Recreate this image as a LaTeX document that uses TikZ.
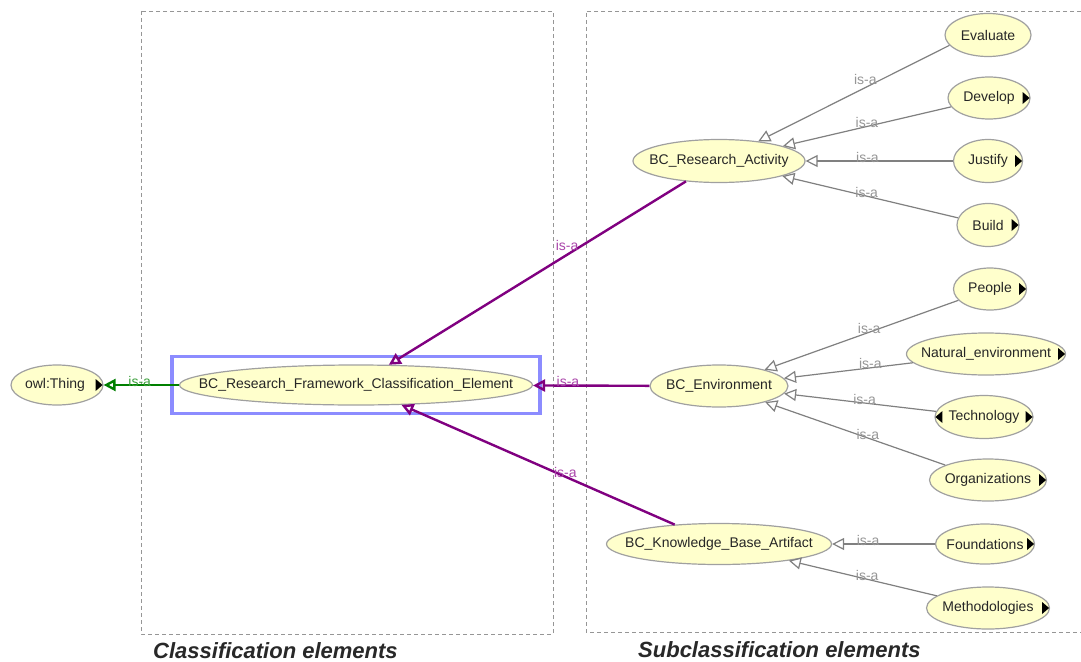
\documentclass[tikz,border=0pt]{standalone}
\usepackage{fontspec}
\setmainfont{Liberation Sans}
\usetikzlibrary{arrows.meta,calc,shapes.geometric,fit}
\definecolor{nodefill}{RGB}{255,255,204}
\definecolor{nodeborder}{RGB}{160,160,160}
\definecolor{edgegray}{RGB}{128,128,128}
\definecolor{labgray}{RGB}{150,150,150}
\definecolor{purp}{RGB}{128,0,128}
\definecolor{purplab}{RGB}{170,70,170}
\definecolor{grn}{RGB}{0,128,0}
\definecolor{grnlab}{RGB}{60,160,60}
\definecolor{selblue}{RGB}{140,140,255}
\definecolor{boxgray}{RGB}{150,150,150}
\definecolor{captxt}{RGB}{40,40,40}
\begin{document}
\begin{tikzpicture}[x=1pt,y=-1pt,
  cls/.style={ellipse, draw=nodeborder, line width=1.2pt, fill=nodefill, inner sep=0pt,
    font=\fontsize{14}{16}\selectfont, text=black!85},
  isa/.style={draw=edgegray, line width=1.2pt, -{Triangle[open,length=12pt,width=12pt]}},
  isap/.style={draw=purp, line width=2.4pt, -{Triangle[open,length=12pt,width=12pt]}},
  isag/.style={draw=grn, line width=2.4pt, -{Triangle[open,length=12pt,width=12pt]}},
  lab/.style={font=\fontsize{14}{16}\selectfont, text=labgray, inner sep=0pt, yshift=4pt},
  labp/.style={lab, text=purplab},
  labg/.style={lab, text=grnlab},
  dbox/.style={draw=boxgray, line width=0.8pt, dash pattern=on 4pt off 3pt},
  selbox/.style={draw=selblue, line width=3.5pt, inner xsep=7pt, inner ysep=8pt},
  mk/.style={fill=black},
  caption/.style={font=\fontsize{22}{26}\selectfont\bfseries\itshape, text=captxt, inner sep=0pt, anchor=base west}
]
\useasboundingbox (0,0) rectangle (1081,661);
\fill[white] (0,0) rectangle (1081,661);

% dashed frames
\draw[dbox] (141,11) rectangle (553,634);
\draw[dbox] (1081,11) -- (586,11) -- (586,632) -- (1081,632);

% nodes
\node[cls, minimum width=92, minimum height=40] (thing) at (57,385) {\makebox[0pt]{owl:Thing\hspace{4pt}}};
\node[cls, minimum width=353, minimum height=40] (central) at (356,385) {\makebox[0pt]{BC\_Research\_Framework\_Classification\_Element}};
\node[cls, minimum width=172, minimum height=43] (ra) at (719,161) {\makebox[0pt]{BC\_Research\_Activity}};
\node[cls, minimum width=138, minimum height=42] (env) at (719,386) {\makebox[0pt]{BC\_Environment}};
\node[cls, minimum width=225, minimum height=41] (kba) at (719,544) {\makebox[0pt]{BC\_Knowledge\_Base\_Artifact}};

\node[cls, minimum width=86, minimum height=43] (eval) at (988,35) {\makebox[0pt]{Evaluate}};
\node[cls, minimum width=82, minimum height=42] (dev) at (989,98) {\makebox[0pt]{Develop}};
\node[cls, minimum width=69, minimum height=43] (just) at (988,161) {\makebox[0pt]{Justify}};
\node[cls, minimum width=62, minimum height=43] (build) at (988,225) {\makebox[0pt]{Build}};

\node[cls, minimum width=73, minimum height=42] (people) at (990,289) {\makebox[0pt]{People}};
\node[cls, minimum width=159, minimum height=42] (nat) at (986,354) {\makebox[0pt]{Natural\_environment}};
\node[cls, minimum width=98, minimum height=43] (tech) at (984,417) {\makebox[0pt]{Technology}};
\node[cls, minimum width=117, minimum height=42] (org) at (988,480) {\makebox[0pt]{Organizations}};

\node[cls, minimum width=99, minimum height=40] (found) at (985,544) {\makebox[0pt]{Foundations}};
\node[cls, minimum width=123, minimum height=42] (meth) at (988,608) {\makebox[0pt]{Methodologies}};

% expand markers
\foreach \n in {thing,dev,just,build,people,nat,tech,org,found,meth}{
  \fill[mk] ($(\n.east)+(-1,0)$) -- ++(-7,-6) -- ++(0,12) -- cycle;
}
\fill[mk] ($(tech.west)+(1,0)$) -- ++(7,-6) -- ++(0,12) -- cycle;

% selection frame
\node[selbox, fit=(central)] (sel) {};

% edges
\draw[isag] (central) -- node[labg,pos=0.52]{is-a} (thing);
\draw[isap] (ra) -- node[labp,pos=0.40,yshift=5pt]{is-a} (central);
\draw[isap] (env) -- node[labp,pos=0.70]{is-a} (central);
\draw[isap] (kba) -- node[labp,pos=0.40]{is-a} (central);

\draw[isa] (eval.195) -- node[lab,pos=0.44,yshift=4pt]{is-a} (ra);
\draw[isa] (dev) -- node[lab,pos=0.50]{is-a} (ra);
\draw[isa] (just) -- node[lab,pos=0.58]{is-a} (ra);
\draw[isa] (build) -- node[lab,pos=0.52]{is-a} (ra);

\draw[isa] (people) -- node[lab,pos=0.46]{is-a} (env);
\draw[isa] (nat) -- node[lab,pos=0.33]{is-a} (env);
\draw[isa] (tech) -- node[lab,pos=0.47]{is-a} (env);
\draw[isa] (org) -- node[lab,pos=0.43]{is-a} (env);

\draw[isa] (found) -- node[lab,pos=0.65]{is-a} (kba);
\draw[isa] (meth) -- node[lab,pos=0.47]{is-a} (kba);

% captions
\node[caption] (capL) at (153,658) {Classification elements};
\node[caption] (capR) at (638,657) {Subclassification elements};
\end{tikzpicture}
\end{document}
